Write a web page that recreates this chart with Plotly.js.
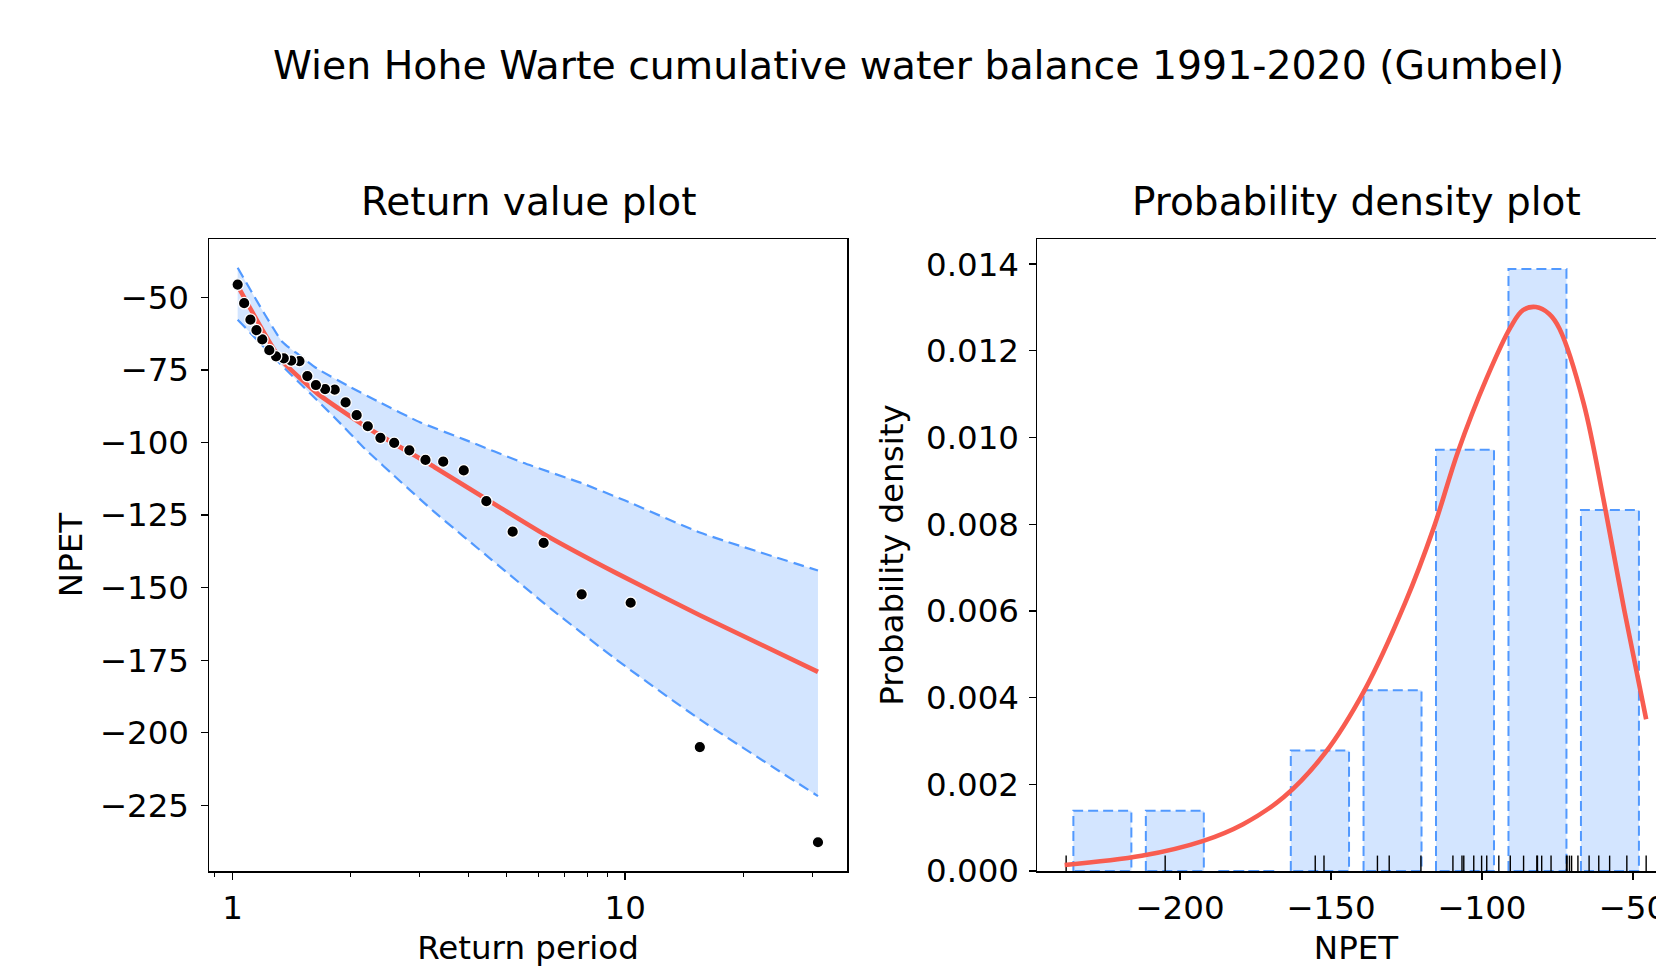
<!DOCTYPE html>
<html>
<head>
<meta charset="utf-8">
<script src="https://cdn.plot.ly/plotly-3.0.1.min.js"></script>
<style>
  html, body { margin: 0; padding: 0; overflow: hidden; background: #fff; }
  #chart { width: 1700px; height: 967px; }
</style>
</head>
<body>
<div id="chart"></div>
<script>
// ---------------- data ----------------
const mainTitle = "Wien Hohe Warte cumulative water balance 1991-2020 (Gumbel)";
const leftTitle = "Return value plot";
const rightTitle = "Probability density plot";

// observed extremes (sorted) and their empirical return periods
const obsReturnPeriod = [31, 15.5, 10.33, 7.75, 6.2, 5.17, 4.43, 3.88, 3.44, 3.1,
  2.82, 2.58, 2.38, 2.21, 2.07, 1.94, 1.82, 1.72, 1.63, 1.55,
  1.48, 1.41, 1.35, 1.29, 1.24, 1.19, 1.15, 1.11, 1.07, 1.03];
const obsNPET = [-237.7, -204.9, -155.2, -152.3, -134.6, -130.7, -120.2, -109.6, -106.6, -106.0,
  -102.7, -100.1, -98.4, -94.4, -90.6, -86.2, -81.8, -81.6, -80.2, -77.1,
  -72.0, -71.8, -71.0, -70.3, -68.2, -64.5, -61.3, -57.7, -52.0, -45.6];

// fitted return value curve
const modelT = [1.03, 1.32, 1.64, 2.21, 3.27, 4.83, 6.2, 9.5, 15.5, 31];
const modelNPET = [-46, -71, -83, -95, -108.5, -122.6, -131.5, -145, -159.5, -179];

// confidence interval bounds
const ciUpperT = [1.03, 1.34, 1.475, 1.64, 2.0, 2.38, 3.0, 3.9, 5.5, 7.75, 10, 15.5, 31];
const ciUpperNPET = [-39.8, -65.4, -69.8, -74.5, -81, -86.3, -93, -99, -107, -114, -120, -131, -144.1];
const ciLowerT = [1.03, 1.32, 1.81, 2.19, 2.68, 3.27, 4.57, 6.5, 9.5, 15.5, 31];
const ciLowerNPET = [-57.7, -72.8, -91.1, -102.6, -113.5, -124, -140.4, -157.5, -174.8, -195.4, -221.8];

// histogram
const binEdges = [-237.7, -213.7, -189.7, -165.7, -141.6, -117.6, -93.6, -69.6, -45.6];
const binDensity = [0.00139, 0.00139, 0, 0.00278, 0.00417, 0.00972, 0.01389, 0.00833];
const barRelWidth = 0.8;

// fitted probability density curve
const pdfNPET = [-238.2, -212.7, -192.5, -179.1, -165.7, -152.2, -138.8, -125.4, -116.0,
  -107.9, -98.5, -90.4, -86.4, -82.1, -77.7, -74.3, -66.3, -59.5, -52.8, -45.6];
const pdfDensity = [0.00014, 0.00035, 0.00069, 0.00108, 0.00170, 0.00270, 0.00418, 0.00619, 0.00791,
  0.00968, 0.01136, 0.01256, 0.01294, 0.01301, 0.01285, 0.01251, 0.01079, 0.00849, 0.00600, 0.0035];

// tick labels
const leftXTickVals = [1, 10];
const leftXTickText = ["1", "10"];
const leftXMinorVals = [0.9, 2, 3, 4, 5, 6, 7, 8, 9, 20, 30];

// ---------------- styling ----------------
const RED = "#F85C50";
const BLUE = "#5199FF";
const FILL = "rgba(81,153,255,0.25)";
const FONT = "DejaVu Sans";
const W = 1700, H = 967;
const px2x = p => p / W;
const px2y = p => 1 - p / H;

const traces = [];

// confidence interval: lower bound, then upper bound filled down to it
traces.push({
  x: ciLowerT, y: ciLowerNPET, xaxis: "x", yaxis: "y", mode: "lines",
  line: {color: BLUE, width: 2.2, dash: "11px,6px", shape: "spline", smoothing: 0.5}, showlegend: false
});
traces.push({
  x: ciUpperT, y: ciUpperNPET, xaxis: "x", yaxis: "y", mode: "lines",
  fill: "tonexty", fillcolor: FILL,
  line: {color: BLUE, width: 2.2, dash: "11px,6px", shape: "spline", smoothing: 0.5}, showlegend: false
});
traces.push({
  x: modelT, y: modelNPET, xaxis: "x", yaxis: "y", mode: "lines",
  line: {color: RED, width: 4.6, shape: "spline", smoothing: 0.5}, showlegend: false
});
traces.push({
  x: obsReturnPeriod, y: obsNPET, xaxis: "x", yaxis: "y", mode: "markers",
  marker: {color: "black", size: 11.5, line: {color: "white", width: 1.3}}, showlegend: false
});

// histogram bars (dashed outlines)
for (let i = 0; i < binDensity.length; i++) {
  const c = (binEdges[i] + binEdges[i + 1]) / 2;
  const hw = (binEdges[i + 1] - binEdges[i]) * barRelWidth / 2;
  const l = c - hw, r = c + hw, d = binDensity[i];
  traces.push({
    x: [l, l, r, r, l], y: [0, d, d, 0, 0], xaxis: "x2", yaxis: "y2",
    mode: "lines", fill: "toself", fillcolor: FILL,
    line: {color: BLUE, width: 2, dash: "10px,5px"}, showlegend: false
  });
}
// rug
traces.push({
  x: obsNPET, y: obsNPET.map(() => 0), xaxis: "x2", yaxis: "y2", mode: "markers",
  marker: {symbol: "line-ns", size: 22, line: {color: "black", width: 1.4}},
  showlegend: false, cliponaxis: true
});
traces.push({
  x: pdfNPET, y: pdfDensity, xaxis: "x2", yaxis: "y2", mode: "lines",
  line: {color: RED, width: 4.6, shape: "spline", smoothing: 1}, showlegend: false
});

const tickFont = {family: FONT, size: 32.5, color: "black"};
const axisCommon = {
  showline: true, mirror: true, linecolor: "black", linewidth: 1.5,
  ticks: "outside", ticklen: 7, tickwidth: 1.3, tickcolor: "black",
  showgrid: false, zeroline: false, tickfont: tickFont, fixedrange: true
};

const layout = {
  width: W, height: H,
  margin: {l: 0, r: 0, t: 0, b: 0},
  paper_bgcolor: "white", plot_bgcolor: "white",
  showlegend: false,
  font: {family: FONT, color: "black"},
  xaxis: Object.assign({}, axisCommon, {
    type: "log", range: [-0.0602, 1.5653],
    domain: [px2x(209), px2x(847)], anchor: "y",
    tickmode: "array", tickvals: leftXTickVals, ticktext: leftXTickText,
    minor: {tickmode: "array", tickvals: leftXMinorVals, ticks: "outside", ticklen: 4, tickwidth: 1, tickcolor: "black"},
    title: {text: "Return period", font: {family: FONT, size: 32.5, color: "black"}, standoff: 12}
  }),
  yaxis: Object.assign({}, axisCommon, {
    range: [-247.6, -29.9], domain: [px2y(871), px2y(239)], anchor: "x",
    tick0: 0, dtick: 25, ticklabelstandoff: 5,
    title: {text: "NPET", font: {family: FONT, size: 32.5, color: "black"}, standoff: 7}
  }),
  xaxis2: Object.assign({}, axisCommon, {
    range: [-247.35, -36.05], domain: [px2x(1037), px2x(1675)], anchor: "y2",
    tick0: 0, dtick: 50,
    title: {text: "NPET", font: {family: FONT, size: 32.5, color: "black"}, standoff: 12}
  }),
  yaxis2: Object.assign({}, axisCommon, {
    range: [0, 0.01458], domain: [px2y(871), px2y(239)], anchor: "x2",
    tick0: 0, dtick: 0.002, tickformat: ".3f", ticklabelstandoff: 3,
    title: {text: "Probability density", font: {family: FONT, size: 32.5, color: "black"}, standoff: 12}
  }),
  annotations: [
    {text: mainTitle, xref: "paper", yref: "paper", x: px2x(918), y: px2y(90), xanchor: "center", yanchor: "bottom",
     showarrow: false, font: {family: FONT, size: 39.4, color: "black"}},
    {text: leftTitle, xref: "paper", yref: "paper", x: px2x(528), y: px2y(226), xanchor: "center", yanchor: "bottom",
     showarrow: false, font: {family: FONT, size: 39, color: "black"}},
    {text: rightTitle, xref: "paper", yref: "paper", x: px2x(1356), y: px2y(226), xanchor: "center", yanchor: "bottom",
     showarrow: false, font: {family: FONT, size: 39, color: "black"}}
  ]
};

Plotly.newPlot("chart", traces, layout, {displayModeBar: false, staticPlot: true});
</script>
</body>
</html>
